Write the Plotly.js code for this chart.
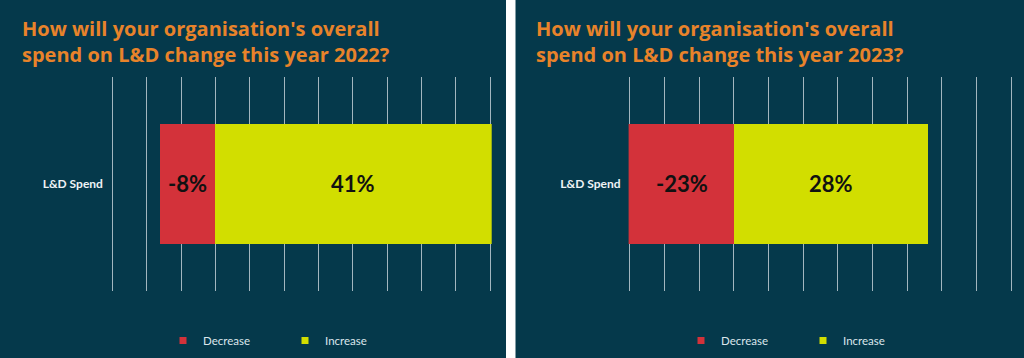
<!DOCTYPE html>
<html>
<head>
<meta charset="utf-8">
<script src="https://cdn.plot.ly/plotly-3.0.1.min.js"></script>
<style>
  html, body { margin: 0; padding: 0; background: #ffffff; }
  #chart { width: 1024px; height: 358px; }
</style>
</head>
<body>
<div id="chart"></div>
<script>
// ---- Data ----
const categories = ["L&D Spend"];
const years = ["2022", "2023"];
const decrease2022 = [-8];
const increase2022 = [41];
const decrease2023 = [-23];
const increase2023 = [28];
const seriesNames = ["Decrease", "Increase"];
const titleTexts = [
  "How will your organisation's overall<br>spend on L&D change this year 2022?",
  "How will your organisation's overall<br>spend on L&D change this year 2023?"
];
const axisRange = [-15, 40];

// ---- Styles ----
const BG = "#05394b";
const RED = "#d3323a";
const GREEN = "#d2de00";
const GRID = "#a3b6bf";
const ORANGE = "#e8832a";

function pctLabel(v) { return Math.round(v) + "%"; }
function clamp(v) { return Math.max(axisRange[0], Math.min(axisRange[1], v)); }

const panels = [
  { dec: decrease2022, inc: increase2022, xa: "x", ya: "y", leg: "legend" },
  { dec: decrease2023, inc: increase2023, xa: "x2", ya: "y2", leg: "legend2" }
];

const traces = [];
const annotations = [];
panels.forEach((p, i) => {
  traces.push({
    type: "bar", orientation: "h", name: seriesNames[0],
    y: categories, x: p.dec, xaxis: p.xa, yaxis: p.ya,
    marker: { color: RED, line: { width: 0 } }, width: 0.565,
    showlegend: false, hoverinfo: "skip"
  });
  traces.push({
    type: "bar", orientation: "h", name: seriesNames[1],
    y: categories, x: p.inc, xaxis: p.xa, yaxis: p.ya,
    marker: { color: GREEN, line: { width: 0 } }, width: 0.565,
    showlegend: false, hoverinfo: "skip"
  });
  // legend-only entries with small square markers
  [RED, GREEN].forEach((c, k) => {
    traces.push({
      type: "scatter", mode: "markers", name: seriesNames[k],
      x: [null], y: [null], xaxis: p.xa, yaxis: p.ya,
      marker: { symbol: "square", size: 7, color: c },
      legend: p.leg, showlegend: true, hoverinfo: "skip"
    });
  });
  // bar value labels, centred on the visible part of each bar
  [p.dec, p.inc].forEach(arr => {
    arr.forEach((v, j) => {
      annotations.push({
        xref: p.xa, yref: p.ya, x: clamp(v) / 2, y: categories[j],
        text: "<b>" + pctLabel(v) + "</b>", showarrow: false,
        font: { family: "Lato, 'Open Sans', sans-serif", size: 22, color: "#111111" },
        xanchor: "center", yanchor: "middle"
      });
    });
  });
});

// titles
const titleX = [20 / 1024, 534 / 1024];
titleTexts.forEach((t, i) => {
  annotations.push({
    xref: "paper", yref: "paper", x: titleX[i], y: 1 - 13 / 358,
    xanchor: "left", yanchor: "top", align: "left", showarrow: false,
    text: "<b>" + t + "</b>",
    font: { family: "'Open Sans', sans-serif", size: 20, color: ORANGE }
  });
});

const viewRange = [axisRange[0] - 0.2, axisRange[1] + 0.2];
const yDomain = [1 - 290.5 / 358, 1 - 77.3 / 358];
function xAxis(domain, anchor) {
  return {
    domain: domain, range: viewRange, tick0: 0, dtick: 5,
    showgrid: true, gridcolor: GRID, gridwidth: 1,
    zeroline: false, showticklabels: false, ticks: "",
    showline: false, fixedrange: true, anchor: anchor
  };
}
function yAxis(anchor) {
  return {
    domain: yDomain, type: "category", anchor: anchor,
    showgrid: false, zeroline: false, ticks: "", ticklen: 0,
    showline: false, fixedrange: true, ticklabelstandoff: 7,
    tickfont: { family: "Lato, sans-serif", size: 12, color: "#eef3f6", weight: "bold" }
  };
}

const legendBase = {
  orientation: "h", xanchor: "left", yanchor: "middle",
  y: 1 - 340.5 / 358, bgcolor: "rgba(0,0,0,0)",
  font: { family: "Lato, sans-serif", size: 11.5, color: "#dbe6ec" },
  itemwidth: 30, entrywidth: 77, traceorder: "normal"
};

const layout = {
  width: 1024, height: 358,
  margin: { l: 0, r: 0, t: 0, b: 0, pad: 0 },
  paper_bgcolor: BG, plot_bgcolor: "rgba(0,0,0,0)",
  barmode: "relative", bargap: 0,
  showlegend: true,
  xaxis: xAxis([110.9 / 1024, 491.7 / 1024], "y"),
  yaxis: yAxis("x"),
  xaxis2: xAxis([628.6 / 1024, 1012.4 / 1024], "y2"),
  yaxis2: yAxis("x2"),
  legend: Object.assign({}, legendBase, { x: 163 / 1024 }),
  legend2: Object.assign({}, legendBase, { x: 681 / 1024 }),
  shapes: [{
    type: "rect", xref: "paper", yref: "paper",
    x0: 506 / 1024, x1: 515.5 / 1024, y0: 0, y1: 1,
    fillcolor: "#ffffff", line: { width: 0 }, layer: "above"
  }],
  annotations: annotations
};

Plotly.newPlot("chart", traces, layout, { displayModeBar: false, staticPlot: true });
</script>
</body>
</html>
